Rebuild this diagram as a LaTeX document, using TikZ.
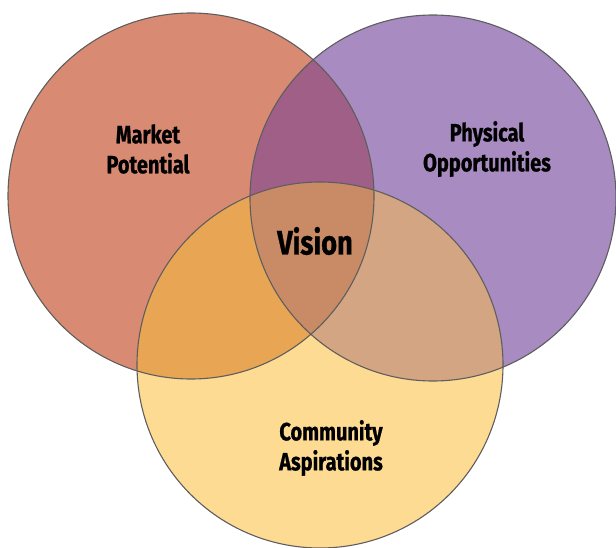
\documentclass[tikz,border=0pt]{standalone}
\usepackage{fontspec}
\setmainfont{Fira Sans}[FakeStretch=0.8, BoldFeatures={FakeBold=0.8}]
\usepackage{xcolor}

\definecolor{market}{HTML}{D98A73}
\definecolor{physical}{HTML}{A78BC1}
\definecolor{community}{HTML}{FEDB93}
\definecolor{marketphys}{HTML}{A05F87}
\definecolor{marketcomm}{HTML}{E8A553}
\definecolor{physcomm}{HTML}{D3A582}
\definecolor{vision}{HTML}{C98A66}
\definecolor{ringline}{HTML}{5E5E5E}

\begin{document}
\begin{tikzpicture}[x=1pt,y=-1pt,
    ring/.style={draw=ringline, line width=1.1pt},
    label/.style={font=\bfseries\fontsize{25}{30}\selectfont, align=center, inner sep=0pt}]
    \useasboundingbox (0,0) rectangle (616,548);

    % centres of the three circles
    \coordinate (M) at (191,196);
    \coordinate (P) at (433,198);
    \coordinate (C) at (320,365);
    \def\rad{183pt}

    % plain circles
    \fill[market] (M) circle (\rad);
    \fill[physical] (P) circle (\rad);
    \fill[community] (C) circle (\rad);

    % pairwise overlaps
    \begin{scope}
        \clip (M) circle (\rad);
        \fill[marketphys] (P) circle (\rad);
        \fill[marketcomm] (C) circle (\rad);
    \end{scope}
    \begin{scope}
        \clip (P) circle (\rad);
        \fill[physcomm] (C) circle (\rad);
    \end{scope}

    % middle part, all three
    \begin{scope}
        \clip (M) circle (\rad);
        \clip (P) circle (\rad);
        \fill[vision] (C) circle (\rad);
    \end{scope}

    % outlines
    \foreach \c in {M,P,C} {
        \draw[ring] (\c) circle (\rad);
    }

    % labels
    \node[label] (market) at (148,149) {Market\\Potential};
    \node[label] (physical) at (487,149) {Physical\\Opportunities};
    \node[label] (community) at (331,448) {Community\\Aspirations};
    \node[label, font=\bfseries\fontsize{34}{40}\selectfont] (vision) at (315,241) {Vision};
\end{tikzpicture}
\end{document}
